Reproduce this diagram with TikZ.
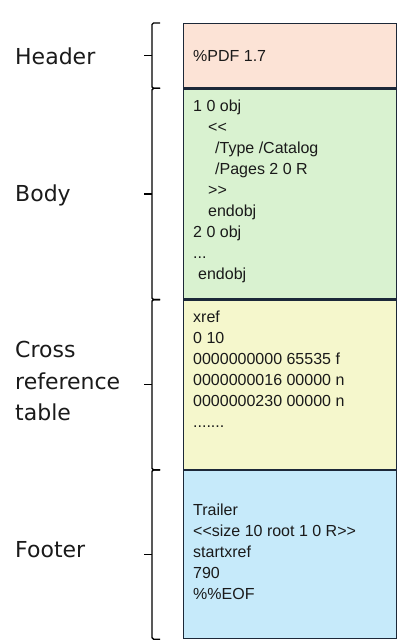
\documentclass[tikz,border=0pt]{standalone}
\usepackage{fontspec}
\setmainfont{Liberation Sans}
\newfontfamily\labfont{DejaVu Sans}
\definecolor{hdrc}{HTML}{FCE3D6}
\definecolor{bodyc}{HTML}{D9F2D0}
\definecolor{xrefc}{HTML}{F5F7CC}
\definecolor{footc}{HTML}{C6EAFA}
\definecolor{boxline}{HTML}{1C2838}
\definecolor{txt}{HTML}{1A1A1A}
\begin{document}
\begin{tikzpicture}[x=1pt,y=-1pt,
  box/.style={draw=boxline, line width=1.3pt, minimum width=213pt, anchor=north west, inner sep=0pt},
  code/.style={anchor=north west, inner sep=0pt, align=left, font=\fontsize{16}{21}\selectfont, text=txt},
  lab/.style={anchor=base west, inner sep=0pt, align=left, font=\labfont\fontsize{22}{31.7}\selectfont, text=txt},
  brk/.style={line width=1.4pt, rounded corners=1.5pt, draw=black}]
\useasboundingbox (0,0) rectangle (409,644);
% boxes
\node[box, fill=hdrc, minimum height=64pt] (hdr) at (183,23) {};
\node[box, fill=bodyc, minimum height=210pt] (body) at (hdr.south west) {};
\node[box, fill=xrefc, minimum height=169pt] (xref) at (body.south west) {};
\node[box, fill=footc, minimum height=168pt] (foot) at (xref.south west) {};
% box texts
\node[code] (thdr) at (193,49.5) {\rule{0pt}{12pt}\%PDF 1.7};
\node[code] (tbody) at (193,99) {\rule{0pt}{12pt}1 0 obj\\
\hspace*{15pt}<{}<\\
\hspace*{22pt}/Type /Catalog\\
\hspace*{22pt}/Pages 2 0 R\\
\hspace*{15pt}>{}>\\
\hspace*{15pt}endobj\\
2 0 obj\\
...\\
\hspace*{5pt}endobj};
\node[code] (txref) at (193,310) {\rule{0pt}{12pt}xref\\
0 10\\
0000000000 65535 f\\
0000000016 00000 n\\
0000000230 00000 n\\
.......};
\node[code] (tfoot) at (193,503) {\rule{0pt}{12pt}Trailer\\
<{}<size 10 root 1 0 R>{}>\\
startxref\\
790\\
\%\%EOF};
% labels
\node[lab] (lhdr) at (15,65) {Header};
\node[lab] (lbody) at (15,201) {Body};
\node[lab, anchor=north west] (lxref) at (15,340.3) {\rule{0pt}{17pt}Cross\\reference\\table};
\node[lab] (lfoot) at (15,557) {Footer};
% braces
\coordinate (bx) at (152,0);
\coordinate (bt) at (160,0);
\coordinate (bm) at (144,0);
\foreach \b in {hdr,body,xref,foot}{
  \draw[brk] (\b.north -| bt) -- (\b.north -| bx) -- (\b.south -| bx) -- (\b.south -| bt);
  \draw[brk] (\b.west -| bx) -- (\b.west -| bm);
}
\end{tikzpicture}
\end{document}
